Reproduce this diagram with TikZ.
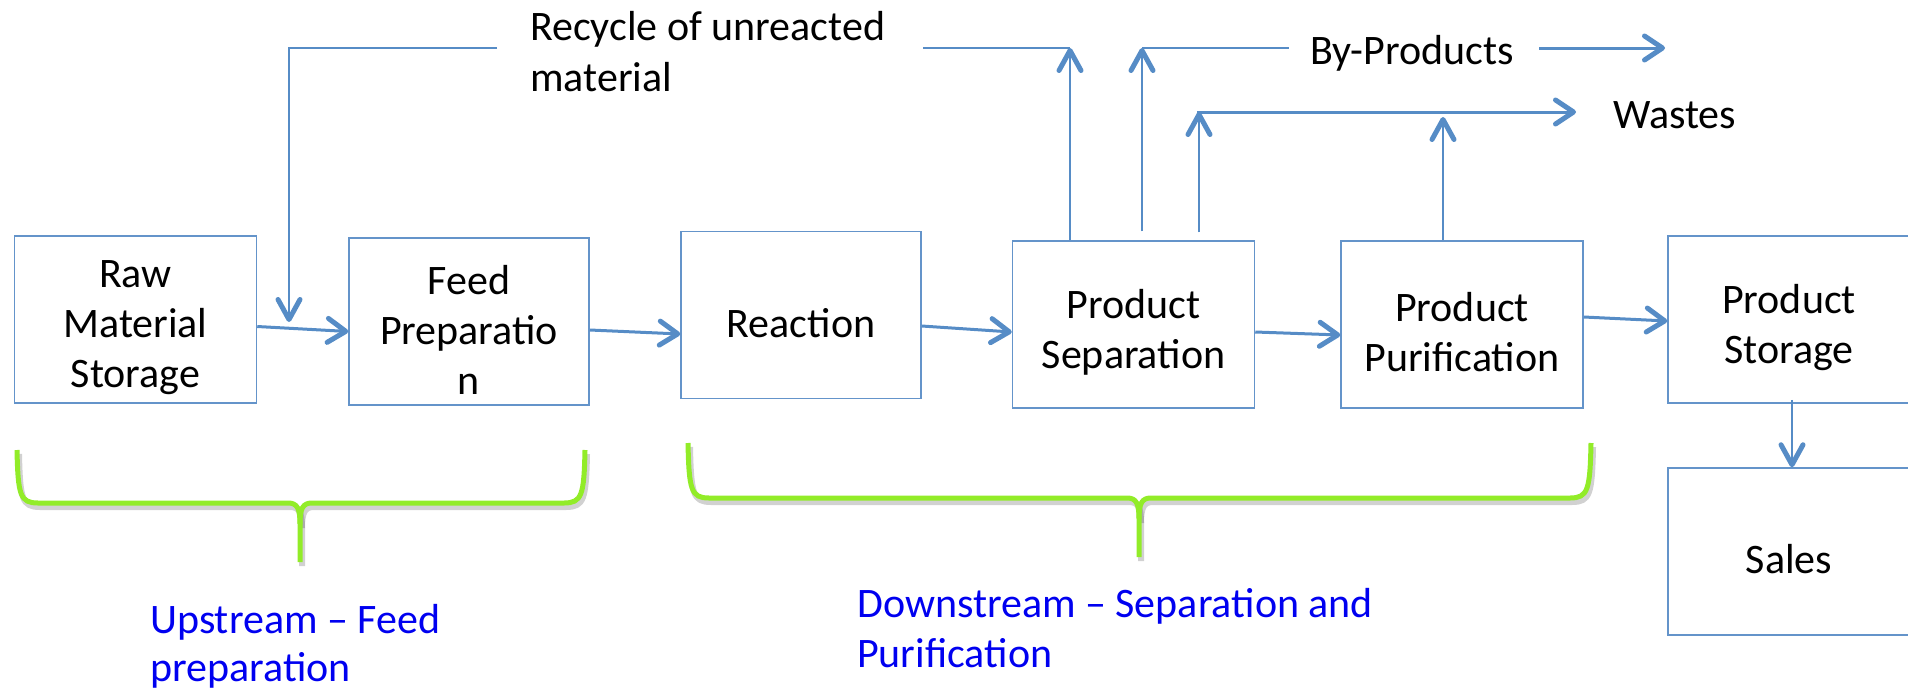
\documentclass[tikz,border=0pt]{standalone}
\usepackage{fontspec}
\setmainfont{Carlito}
\usetikzlibrary{arrows.meta}
\definecolor{arrowblue}{RGB}{86,140,198}
\definecolor{boxblue}{RGB}{100,148,202}
\definecolor{bracegreen}{RGB}{146,236,40}
\definecolor{labelblue}{RGB}{0,0,240}
\tikzset{
  procbox/.style={draw=boxblue, line width=1.5pt, minimum width=242pt, minimum height=167pt,
    inner sep=0pt},
  boxtext/.style={align=center, inner sep=0pt, yshift=-8pt, font=\fontsize{42pt}{50pt}\selectfont},
  lbl/.style={anchor=base west, inner sep=0pt, font=\fontsize{42pt}{50pt}\selectfont},
  bluelbl/.style={lbl, text=labelblue},
  flow/.style={draw=arrowblue, line width=3pt, -{Straight Barb[length=18pt,width=24pt,line width=5pt,round]}},
  upflow/.style={draw=arrowblue, line width=2pt, -{Straight Barb[length=20pt,width=22pt,line width=5pt,round]}},
  thinline/.style={draw=arrowblue, line width=2pt},
  brace/.style={draw=bracegreen, line width=5pt, line join=round},
  braceshadow/.style={draw=black, opacity=0.18, line width=6pt, line join=round},
}
\begin{document}
\begin{tikzpicture}[x=1pt,y=-1pt]
\useasboundingbox (0,0) rectangle (1908,691);

% boxes
\node[procbox, label={[boxtext,name=rawt]center:Raw\\Material\\Storage}] (raw) at (135.5,319.5) {};
\node[procbox, minimum width=240pt, label={[boxtext,name=feedt]center:Feed\\Preparatio\\n}] (feed) at (469,321.5) {};
\node[procbox, minimum width=240pt, label={[boxtext,name=react]center:Reaction}] (reac) at (801,315) {};
\node[procbox, label={[boxtext,name=sept]center:Product\\Separation}] (sep) at (1133.5,324.5) {};
\node[procbox, label={[boxtext,name=purt]center:Product\\Purification}] (pur) at (1462,324.5) {};
\node[procbox, label={[boxtext,name=stort]center:Product\\Storage}] (stor) at (1789,319.5) {};
\node[procbox, label={[boxtext,name=salest]center:Sales}] (sales) at (1789,551.5) {};

% labels
\node[lbl] (rec1) at (530,40) {Recycle of unreacted};
\node[lbl] (rec2) at (530,91) {material};
\node[lbl] (byp)  at (1310,64) {By-Products};
\node[lbl] (wst)  at (1613,128) {Wastes};
\node[bluelbl] (up1) at (150,633) {Upstream – Feed};
\node[bluelbl] (up2) at (150,681) {preparation};
\node[bluelbl] (dn1) at (857,617) {Downstream – Separation and};
\node[bluelbl] (dn2) at (857,667) {Purification};

% coordinates
\coordinate (rc1) at (1070,48);
\coordinate (rc2) at (923,48);
\coordinate (rc3) at (497,48);
\coordinate (rc4) at (289,48);
\coordinate (rc5) at (289,322);
\coordinate (bp1) at (1142,48);
\coordinate (bp2) at (1289,48);
\coordinate (bp3) at (1539,48);
\coordinate (bp4) at (1665,48);
\coordinate (w1) at (1199,112);
\coordinate (w0) at (1197,112);
\coordinate (w3) at (1576,112);
\coordinate (w2) at (1443,117);

% main flow arrows
\draw[flow] ([yshift=-7pt]raw.east) -- ([yshift=-10pt]feed.west);
\draw[flow] ([yshift=-8.5pt]feed.east) -- ([yshift=-19pt]reac.west);
\draw[flow] ([yshift=-11pt]reac.east) -- ([yshift=-7.5pt]sep.west);
\draw[flow] ([yshift=-7.5pt]sep.east) -- ([yshift=-10.5pt]pur.west);
\draw[flow] ([yshift=7.5pt]pur.east) -- ([yshift=-1.5pt]stor.west);
\draw[upflow] ([xshift=3pt,yshift=4pt]stor.south) -- ([xshift=3pt]sales.north);

% upward arrows
\draw[upflow] ([xshift=-63.5pt]sep.north) -- (rc1);
\draw[upflow] ([xshift=8.5pt,yshift=9pt]sep.north) -- (bp1);
\draw[upflow] ([xshift=65.5pt,yshift=8pt]sep.north) -- (w1);
\draw[upflow] ([xshift=-19pt]pur.north) -- (w2);

% recycle line
\draw[thinline] (rc1) -- (rc2);
\draw[upflow] (rc3) -- (rc4) -- (rc5);

% by-products
\draw[thinline] (bp1) -- (bp2);
\draw[flow] (bp3) -- (bp4);

% wastes
\draw[flow] (w0) -- (w3);

% braces (shadow)
\begin{scope}[shift={(2,4)}]
\draw[braceshadow] (17,450) .. controls (18,495) and (20,503) .. (38,503) -- (288,503)
  .. controls (297,503) and (300,508) .. (300,524) -- (300,562);
\draw[braceshadow] (585,450) .. controls (584,495) and (582,503) .. (564,503) -- (312,503)
  .. controls (303,503) and (300,508) .. (300,524);
\draw[braceshadow] (688,443) .. controls (689,490) and (691,498) .. (709,498) -- (1127,498)
  .. controls (1136,498) and (1139,503) .. (1139,519) -- (1139,557);
\draw[braceshadow] (1591,443) .. controls (1590,490) and (1588,498) .. (1570,498) -- (1151,498)
  .. controls (1142,498) and (1139,503) .. (1139,519);
\end{scope}
% braces
\draw[brace] (17,450) .. controls (18,495) and (20,503) .. (38,503) -- (288,503)
  .. controls (297,503) and (300,508) .. (300,524) -- (300,562);
\draw[brace] (585,450) .. controls (584,495) and (582,503) .. (564,503) -- (312,503)
  .. controls (303,503) and (300,508) .. (300,524);
\draw[brace] (688,443) .. controls (689,490) and (691,498) .. (709,498) -- (1127,498)
  .. controls (1136,498) and (1139,503) .. (1139,519) -- (1139,557);
\draw[brace] (1591,443) .. controls (1590,490) and (1588,498) .. (1570,498) -- (1151,498)
  .. controls (1142,498) and (1139,503) .. (1139,519);
\end{tikzpicture}
\end{document}
